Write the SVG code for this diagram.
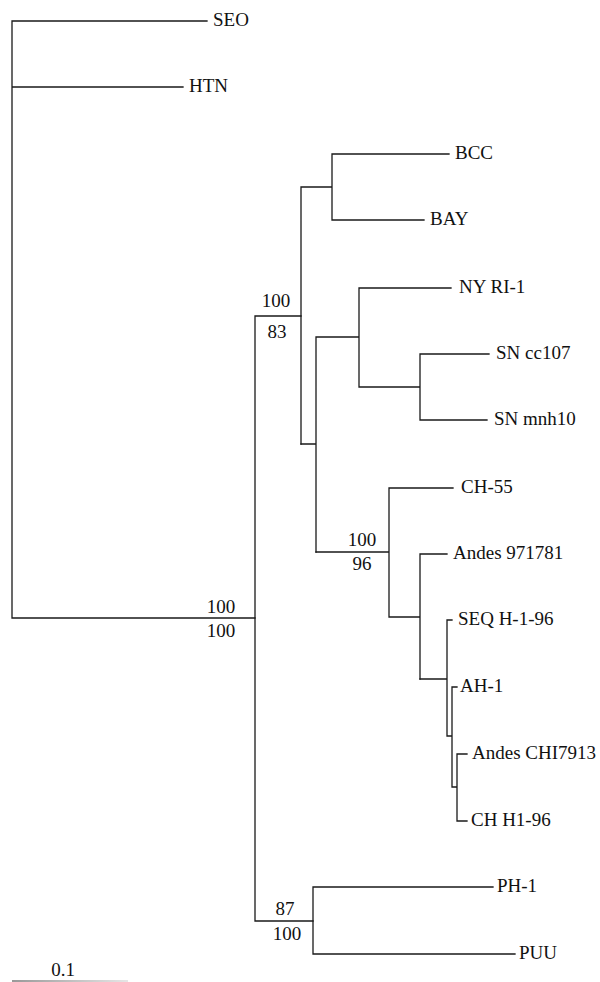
<svg xmlns="http://www.w3.org/2000/svg" width="600" height="982" viewBox="0 0 600 982">
<style>
.e{fill:none;stroke:#1a1a1a;stroke-width:1.3;stroke-linecap:square}
.b{text-anchor:middle}
</style>
<defs>
<linearGradient id="sg" gradientUnits="userSpaceOnUse" x1="12" y1="0" x2="128" y2="0">
<stop offset="0" stop-color="#777"/>
<stop offset="1" stop-color="#ddd"/>
</linearGradient>
</defs>
<rect width="600" height="982" fill="#fff"/>
<g id="connectors">
<path class="e" d="M12,21V618M12,21H207M12,87H183M12,618H255"/>
<path class="e" d="M255,316V921M255,316H301M255,921H313"/>
<path class="e" d="M301,187V444M301,187H332M332,154V220M332,154H449M332,220H424"/>
<path class="e" d="M301,444H316M316,337V552M316,337H359M359,288V387M359,288H451M359,387H420M420,354V420M420,354H489M420,420H487"/>
<path class="e" d="M316,552H389M389,488V617M389,488H453M389,617H420M420,554V679M420,554H447"/>
<path class="e" d="M420,679H447M447,620V736M447,620H452M447,736H452M452,687V787M452,687H457M452,787H457M457,754V821M457,754H467M457,821H467"/>
<path class="e" d="M313,887V954M313,887H493M313,954H515"/>
<path d="M12,981H128" stroke="url(#sg)" stroke-width="1.5"/>
</g>
<g font-family="Liberation Serif" font-size="19" fill="#111">
<g id="SEO"><text x="213" y="26">SEO</text></g>
<g id="HTN"><text x="189" y="92">HTN</text></g>
<g id="BCC"><text x="455" y="159">BCC</text></g>
<g id="BAY"><text x="430" y="225">BAY</text></g>
<g id="NYRI-1"><text x="459" y="293">NY RI-1</text></g>
<g id="SNcc107"><text x="496" y="359">SN cc107</text></g>
<g id="SNmnh10"><text x="494" y="425">SN mnh10</text></g>
<g id="CH-55"><text x="461" y="493">CH-55</text></g>
<g id="Andes971781"><text x="453" y="559">Andes 971781</text></g>
<g id="SEQH-1-96"><text x="458" y="625">SEQ H-1-96</text></g>
<g id="AH-1"><text x="460" y="692">AH-1</text></g>
<g id="AndesCHI7913"><text x="472" y="759">Andes CHI7913</text></g>
<g id="CHH1-96"><text x="471" y="826">CH H1-96</text></g>
<g id="PH-1"><text x="497" y="892">PH-1</text></g>
<g id="PUU"><text x="519" y="959">PUU</text></g>
<g id="node-root"><text class="b" x="221" y="613">100</text><text class="b" x="221" y="637">100</text></g>
<g id="node-B"><text class="b" x="276" y="307">100</text><text class="b" x="277" y="338">83</text></g>
<g id="node-F"><text class="b" x="362" y="546">100</text><text class="b" x="362" y="570">96</text></g>
<g id="node-P"><text class="b" x="285" y="915">87</text><text class="b" x="287" y="940">100</text></g>
<g id="scale"><text class="b" x="63" y="976">0.1</text></g>
</g>
</svg>
